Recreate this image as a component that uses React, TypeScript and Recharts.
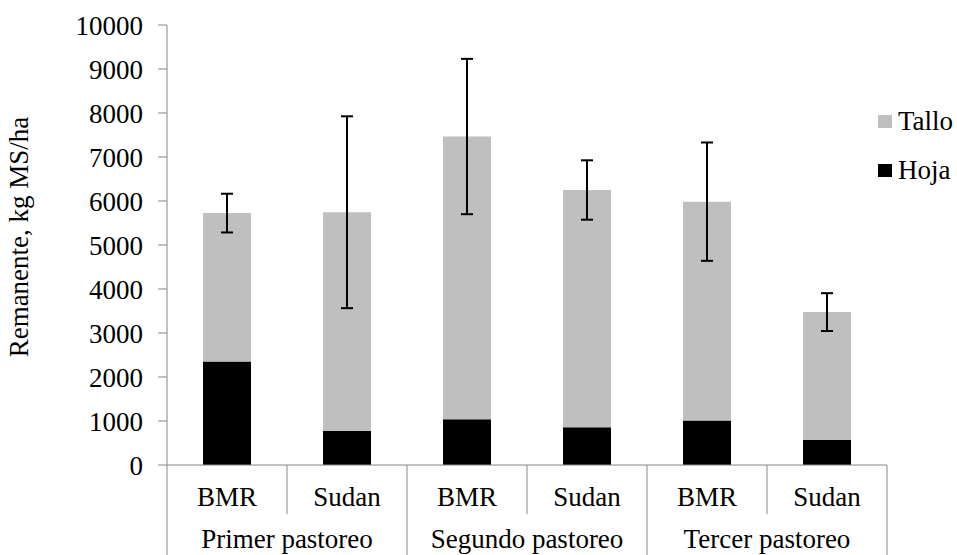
import { BarChart, Bar, XAxis, YAxis, Legend, ErrorBar } from 'recharts'

const groups = ['Primer pastoreo', 'Segundo pastoreo', 'Tercer pastoreo']
const varieties = ['BMR', 'Sudan', 'BMR', 'Sudan', 'BMR', 'Sudan']
const hoja = [2350, 775, 1040, 860, 1010, 570]
const tallo = [3375, 4970, 6425, 5390, 4975, 2905]
const errorTotal = [440, 2180, 1765, 675, 1345, 430]
const yTicks = [0, 1000, 2000, 3000, 4000, 5000, 6000, 7000, 8000, 9000, 10000]

const data = varieties.map((v, i) => ({
  id: i,
  variety: v,
  hoja: hoja[i],
  tallo: tallo[i],
  err: errorTotal[i],
}))

const FONT = "'Liberation Serif', 'DejaVu Serif', serif"
const AXIS = '#868686'
const BAND = 120

function CategoryTick(props: any) {
  const { x, y, payload } = props
  const i = payload.index
  const left = x - BAND / 2
  return (
    <g>
      <line x1={left} x2={left} y1={y} y2={y + (i % 2 === 0 ? 90 : 49)} stroke={AXIS} />
      {i === varieties.length - 1 && (
        <line x1={x + BAND / 2} x2={x + BAND / 2} y1={y} y2={y + 90} stroke={AXIS} />
      )}
      <text x={x} y={y + 41} textAnchor="middle" style={{ fontSize: 27, fontFamily: FONT }} fill="#000">
        {varieties[i]}
      </text>
      {i % 2 === 1 && (
        <text x={left} y={y + 83} textAnchor="middle" style={{ fontSize: 27, fontFamily: FONT }} fill="#000">
          {groups[(i - 1) / 2]}
        </text>
      )}
    </g>
  )
}

function LegendBox(props: any) {
  const items = [...(props.payload || [])].reverse()
  return (
    <div style={{ fontFamily: FONT, fontSize: 27, color: '#000' }}>
      {items.map((it: any) => (
        <div key={it.value} style={{ display: 'flex', alignItems: 'center', height: 49 }}>
          <span style={{ width: 14, height: 13, background: it.color, marginRight: 6, display: 'inline-block' }} />
          <span>{it.value}</span>
        </div>
      ))}
    </div>
  )
}

export default function App() {
  return (
    <div style={{ position: 'absolute', left: 0, top: 0, background: '#fff', fontFamily: FONT }}>
      <BarChart width={957} height={555} data={data} margin={{ top: 25, right: 70, bottom: 0, left: 0 }}>
        <XAxis
          dataKey="id"
          height={90}
          axisLine={{ stroke: AXIS }}
          tickLine={false}
          tickSize={0}
          tickMargin={0}
          interval={0}
          tick={<CategoryTick />}
        />
        <YAxis
          width={167}
          domain={[0, 10000]}
          ticks={yTicks}
          interval={0}
          axisLine={{ stroke: AXIS }}
          tickLine={{ stroke: AXIS }}
          tickSize={9}
          tickMargin={15}
          tick={{ fill: '#000', fontSize: 27, style: { fontFamily: FONT } }}
          label={() => (
            <text transform="translate(28,237) rotate(-90)" textAnchor="middle" style={{ fontSize: 27, fontFamily: FONT }} fill="#000">
              Remanente, kg MS/ha
            </text>
          )}
        />
        <Legend
          layout="vertical"
          align="center"
          verticalAlign="middle"
          wrapperStyle={{ left: 878, top: 97, width: 80 }}
          content={<LegendBox />}
        />
        <Bar dataKey="hoja" name="Hoja" stackId="a" fill="#000000" barSize={48} isAnimationActive={false} />
        <Bar dataKey="tallo" name="Tallo" stackId="a" fill="#BFBFBF" barSize={48} isAnimationActive={false}>
          <ErrorBar dataKey="err" width={6} strokeWidth={2} stroke="#000" direction="y" />
        </Bar>
      </BarChart>
    </div>
  )
}
